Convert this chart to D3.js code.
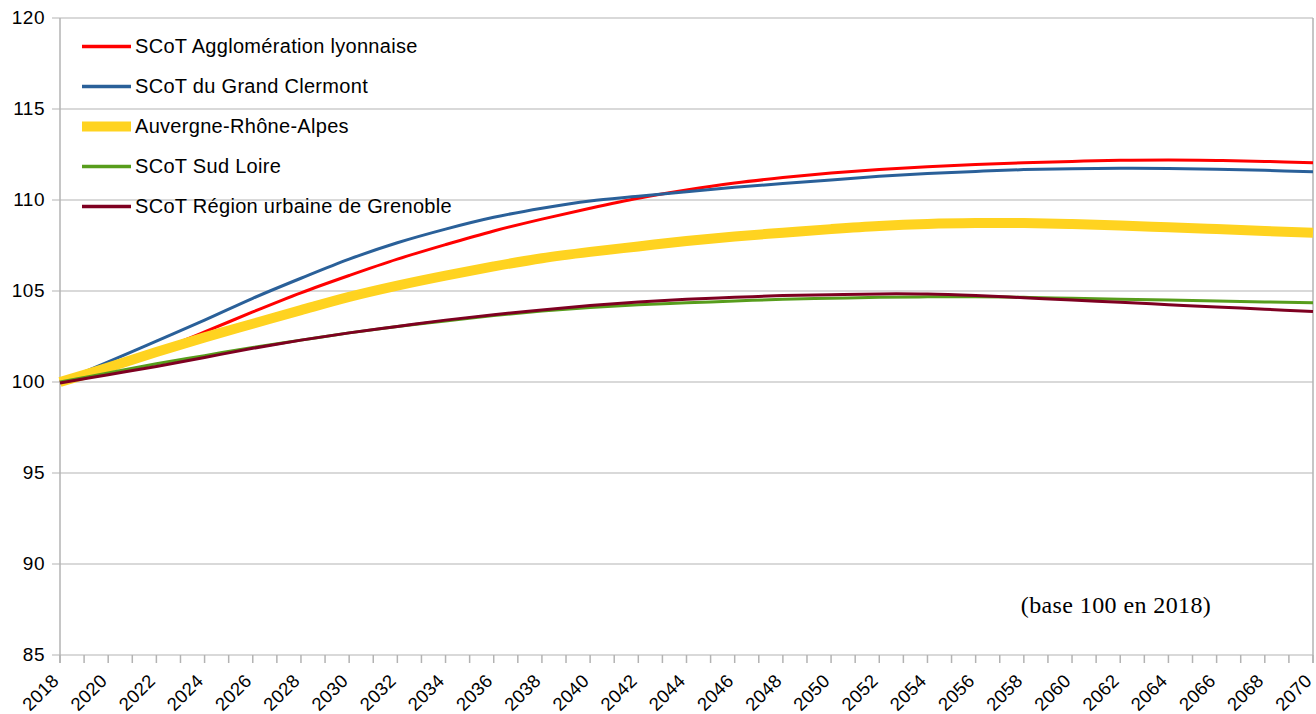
<!DOCTYPE html>
<html><head><meta charset="utf-8">
<script src="https://cdn.jsdelivr.net/npm/d3@7"></script>
<style>
html,body{margin:0;padding:0;background:#fff;}
svg text{font-family:"Liberation Sans",Arial,sans-serif;fill:#000;}
</style></head>
<body><svg id="c" width="1316" height="714"></svg>
<script>
const years = d3.range(2018, 2071, 2);
const seriesNames = ["SCoT Agglomération lyonnaise","SCoT du Grand Clermont","Auvergne-Rhône-Alpes","SCoT Sud Loire","SCoT Région urbaine de Grenoble"];
const lyon = [100,100.8,101.7,102.75,103.85,104.9,105.85,106.75,107.55,108.3,108.95,109.55,110.1,110.55,110.93,111.23,111.48,111.68,111.83,111.95,112.05,112.12,112.18,112.2,112.17,112.12,112.05];
const clermont = [100,101.1,102.25,103.4,104.6,105.7,106.75,107.65,108.4,109.05,109.55,109.95,110.2,110.45,110.7,110.9,111.1,111.3,111.45,111.57,111.67,111.72,111.74,111.73,111.69,111.63,111.55];
const ara = [100,100.8,101.65,102.45,103.2,103.95,104.68,105.3,105.85,106.35,106.8,107.15,107.45,107.75,108.0,108.2,108.4,108.57,108.68,108.73,108.73,108.68,108.6,108.5,108.4,108.3,108.2];
const sudLoire = [100,100.5,101.0,101.45,101.9,102.3,102.7,103.05,103.35,103.65,103.9,104.1,104.25,104.35,104.45,104.55,104.6,104.65,104.68,104.68,104.65,104.6,104.55,104.5,104.45,104.4,104.35];
const grenoble = [99.95,100.4,100.85,101.35,101.85,102.3,102.7,103.05,103.4,103.7,103.95,104.2,104.4,104.55,104.65,104.75,104.8,104.84,104.83,104.75,104.63,104.5,104.38,104.25,104.12,104.0,103.87];
const yTicks = [85,90,95,100,105,110,115,120];
const note = "(base 100 en 2018)";

const colors = ["#ff0000","#2a6099","#ffd320","#579d1c","#7e0021"];
const widths = [3,3,10,3,3];
const allSeries = [lyon, clermont, ara, sudLoire, grenoble];

const svg = d3.select("#c");
const L = 60, R = 1313, T = 18, B = 655;
const x = d3.scaleLinear().domain([2018,2070]).range([L,R]);
const y = d3.scaleLinear().domain([85,120]).range([B,T]);

// gridlines
svg.append("g").selectAll("line").data(yTicks).join("line")
  .attr("x1", L-8).attr("x2", R).attr("y1", d=>y(d)).attr("y2", d=>y(d))
  .attr("stroke","#b3b3b3").attr("stroke-width",1.2);
// y labels
svg.append("g").selectAll("text").data(yTicks).join("text")
  .attr("x", 45).attr("y", d=>y(d)+6).attr("text-anchor","end")
  .attr("font-size",19).attr("letter-spacing","0.5").text(d=>d);
// axes lines
svg.append("line").attr("x1",L).attr("x2",L).attr("y1",T).attr("y2",B+8).attr("stroke","#b3b3b3").attr("stroke-width",1.5);
svg.append("line").attr("x1",R).attr("x2",R).attr("y1",T).attr("y2",B+8).attr("stroke","#b3b3b3").attr("stroke-width",1.5);
// x ticks every year
svg.append("g").selectAll("line").data(d3.range(2018,2071)).join("line")
  .attr("x1",d=>x(d)).attr("x2",d=>x(d)).attr("y1",B).attr("y2",B+8)
  .attr("stroke","#b3b3b3").attr("stroke-width",1.5);
// x labels
svg.append("g").selectAll("text").data(years).join("text")
  .attr("text-anchor","end").attr("font-size",18.5).attr("letter-spacing","0.3")
  .attr("transform", d=>`translate(${x(d)},${B+27}) rotate(-45)`)
  .text(d=>d);

// lines
const line = d3.line().x((d,i)=>x(years[i])).y(d=>y(d)).curve(d3.curveCatmullRom.alpha(0.5));
allSeries.forEach((s,k)=>{
  svg.append("path").datum(s).attr("d", line).attr("fill","none")
    .attr("stroke", colors[k]).attr("stroke-width", widths[k]).attr("stroke-linejoin","round");
});

// legend
const lg = svg.append("g");
seriesNames.forEach((n,k)=>{
  const ly = 46.5 + k*40;
  lg.append("line").attr("x1",82).attr("x2",131).attr("y1",ly).attr("y2",ly)
    .attr("stroke",colors[k]).attr("stroke-width", k===2?10:3.5);
  lg.append("text").attr("x",135).attr("y",ly+6.5).attr("font-size",20).attr("letter-spacing","0.3").text(n);
});

svg.append("text").attr("x",1116).attr("y",613).attr("text-anchor","middle")
  .attr("font-size",24).attr("letter-spacing","0.4")
  .style("font-family","'Liberation Serif','Times New Roman',serif").text(note);
</script></body></html>
